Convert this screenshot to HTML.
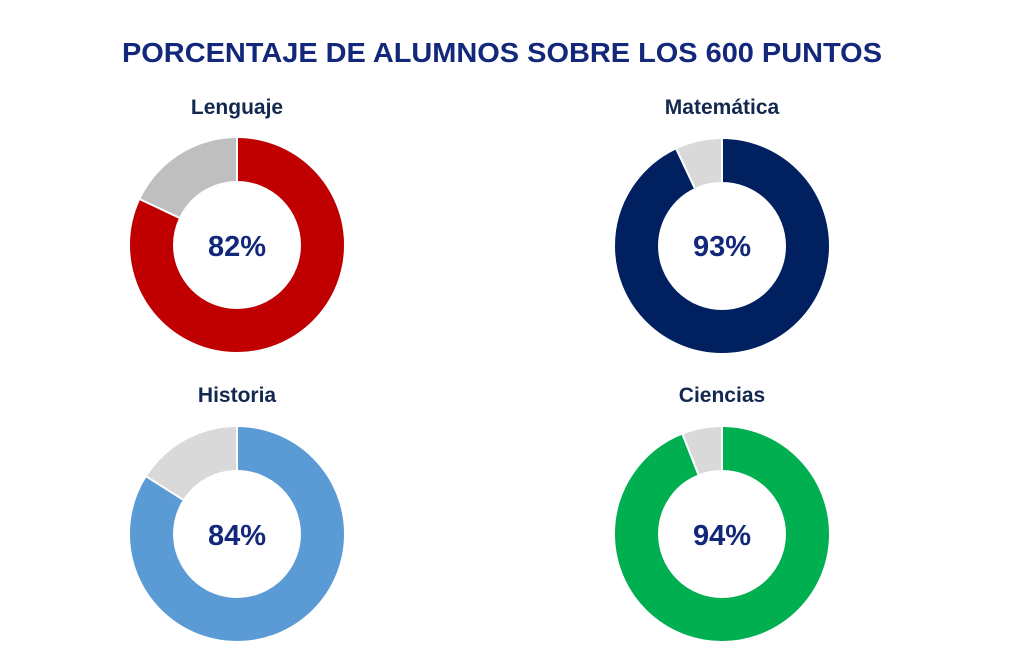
<!DOCTYPE html>
<html><head><meta charset="utf-8"><style>
html,body{margin:0;padding:0;background:#fff;}
svg{display:block;font-family:"Liberation Sans",sans-serif;font-weight:bold;}
</style></head><body>
<svg width="1024" height="672" viewBox="0 0 1024 672">
<text x="502" y="62" text-anchor="middle" font-size="28" fill="#13287a" textLength="760" lengthAdjust="spacingAndGlyphs">PORCENTAJE DE ALUMNOS SOBRE LOS 600 PUNTOS</text>
<g font-size="21" fill="#13284f" text-anchor="middle">
<text x="237" y="114">Lenguaje</text>
<text x="722" y="114">Matemática</text>
<text x="237" y="402">Historia</text>
<text x="722" y="402">Ciencias</text>
</g>
<!-- Lenguaje -->
<g transform="translate(237,245)">
<circle r="85.5" fill="none" stroke="#bfbfbf" stroke-width="43"/>
<circle r="85.5" fill="none" stroke="#c00000" stroke-width="43" stroke-dasharray="440.5 600" transform="rotate(-90)"/>
</g>
<line x1="237" y1="181" x2="237" y2="138" stroke="#fff" stroke-width="2"/>
<line x1="179.1" y1="217.7" x2="140.2" y2="199.4" stroke="#fff" stroke-width="2"/>
<!-- Matematica -->
<g transform="translate(722,246)">
<circle r="85.5" fill="none" stroke="#d9d9d9" stroke-width="43"/>
<circle r="85.5" fill="none" stroke="#002060" stroke-width="43" stroke-dasharray="499.6 600" transform="rotate(-90)"/>
</g>
<line x1="722" y1="182" x2="722" y2="139" stroke="#fff" stroke-width="2"/>
<line x1="694.7" y1="188.1" x2="676.4" y2="149.2" stroke="#fff" stroke-width="2"/>
<!-- Historia -->
<g transform="translate(237,534)">
<circle r="85.5" fill="none" stroke="#d9d9d9" stroke-width="43"/>
<circle r="85.5" fill="none" stroke="#5b9bd5" stroke-width="43" stroke-dasharray="451.2 600" transform="rotate(-90)"/>
</g>
<line x1="237" y1="470" x2="237" y2="427" stroke="#fff" stroke-width="2"/>
<line x1="183" y1="499.7" x2="146.7" y2="476.7" stroke="#fff" stroke-width="2"/>
<!-- Ciencias -->
<g transform="translate(722,534)">
<circle r="85.5" fill="none" stroke="#d9d9d9" stroke-width="43"/>
<circle r="85.5" fill="none" stroke="#00b050" stroke-width="43" stroke-dasharray="505 600" transform="rotate(-90)"/>
</g>
<line x1="722" y1="470" x2="722" y2="427" stroke="#fff" stroke-width="2"/>
<line x1="698.4" y1="474.5" x2="682.6" y2="434.5" stroke="#fff" stroke-width="2"/>
<g font-size="29" fill="#13287a" text-anchor="middle">
<text x="237" y="256">82%</text>
<text x="722" y="256">93%</text>
<text x="237" y="545">84%</text>
<text x="722" y="545">94%</text>
</g>
</svg>
</body></html>
